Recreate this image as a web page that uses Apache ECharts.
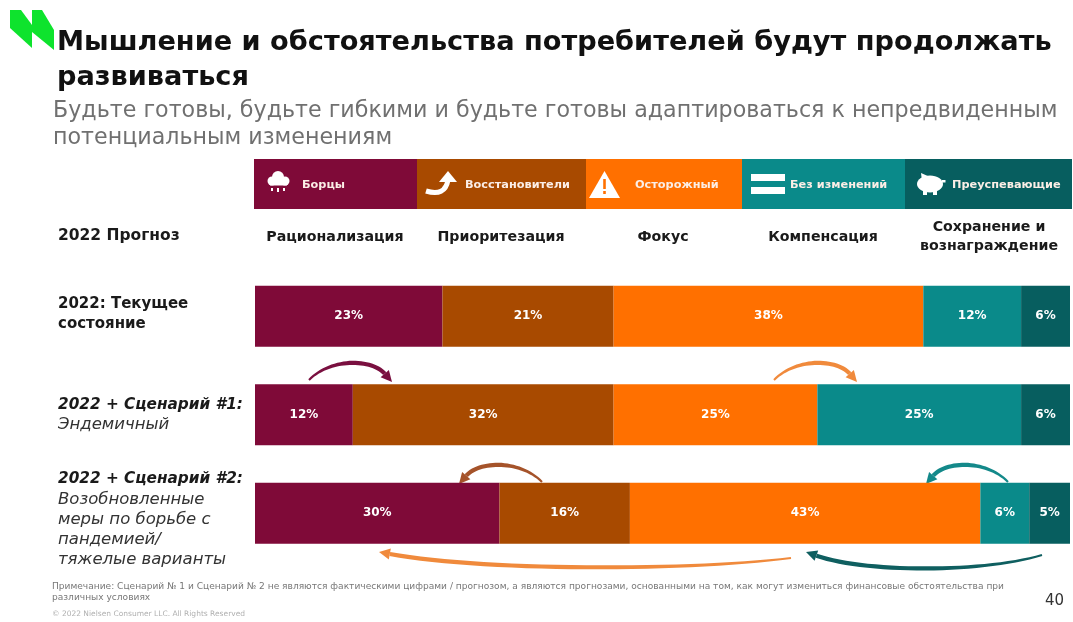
<!DOCTYPE html>
<html lang="ru">
<head>
<meta charset="utf-8">
<title>Мышление и обстоятельства потребителей</title>
<style>
html, body { margin: 0; padding: 0; background: #ffffff; }
#chart { width: 1073px; height: 622px; }
</style>
<script src="https://cdn.jsdelivr.net/npm/echarts@6/dist/echarts.min.js"></script>
</head>
<body>
<div id="chart"></div>
<script>
// Consumer mindset segments and their share per scenario, in percent
const segments = ['Борцы', 'Восстановители', 'Осторожный', 'Без изменений', 'Преуспевающие'];
const outlooks = ['Рационализация', 'Приоритезация', 'Фокус', 'Компенсация', 'Сохранение и\nвознаграждение'];
const rows = ['2022: Текущее состояние', '2022 + Сценарий #1', '2022 + Сценарий #2'];
const strugglers = [23, 12, 30];
const recoverers = [21, 32, 16];
const cautious = [38, 25, 43];
const unchanged = [12, 25, 6];
const thriving = [6, 6, 5];
const palette = ['#7f0a38', '#a84a00', '#ff7000', '#0a8a8a', '#075e5f'];

const FONT = '"DejaVu Sans", "Noto Sans", sans-serif';

// Row captions, drawn as rich axis labels
const rowLabels = {
  '2022: Текущее состояние': '{b|2022: Текущее}\n{b|состояние}',
  '2022 + Сценарий #1': '{bi|2022 + Сценарий #1:}\n{i|Эндемичный}',
  '2022 + Сценарий #2': '{bi|2022 + Сценарий #2:}\n{i|Возобновленные}\n{i|меры по борьбе с}\n{i|пандемией/}\n{i|тяжелые варианты}'
};
const rowLabelPadding = [[0, 0, 4, 0], [0, 0, 0, 0], [12, 0, 0, 0]];

function txt(x, y, text, size, color, weight, align, extra) {
  return {
    type: 'text', silent: true,
    style: Object.assign({
      x, y, text, fill: color, fontFamily: FONT, fontSize: size,
      fontWeight: weight || 'normal', align: align || 'left', verticalAlign: 'middle'
    }, extra || {})
  };
}

// Arched annotation arrow: a tapered cubic shaft and a head aligned with the curve end
function arrow(x1, y1, apexY, x2, y2, color) {
  const dx = x2 - x1;
  const c1x = x1 + 0.25 * dx, c2x = x2 - 0.25 * dx;
  const cy = ((y1 + y2) / 2) + (apexY - (y1 + y2) / 2) / 0.75;
  const a = Math.atan2(y2 - cy, x2 - c2x);
  const L = 11, W = 5.5;
  const bx = x2 - L * Math.cos(a), by = y2 - L * Math.sin(a);
  const nx = -Math.sin(a), ny = Math.cos(a);
  const upper = [], lower = [];
  const steps = 30;
  for (let k = 0; k <= steps; k++) {
    const t = k / steps, u = 1 - t;
    const b0 = u * u * u, b1 = 3 * u * u * t, b2 = 3 * u * t * t, b3 = t * t * t;
    const qx = b0 * x1 + b1 * c1x + b2 * c2x + b3 * bx;
    const qy = b0 * y1 + b1 * cy + b2 * cy + b3 * by;
    const tx = u * u * (c1x - x1) + 2 * u * t * (c2x - c1x) + t * t * (bx - c2x);
    const ty = u * u * (cy - y1) + t * t * (by - cy);
    const d = Math.hypot(tx, ty) || 1;
    const half = 1 + 1.1 * Math.min(t * 2, 1);
    upper.push([qx - ty / d * half, qy + tx / d * half]);
    lower.unshift([qx + ty / d * half, qy - tx / d * half]);
  }
  return [
    { type: 'polygon', silent: true, shape: { points: upper.concat(lower) }, style: { fill: color } },
    {
      type: 'polygon', silent: true,
      shape: { points: [[x2, y2], [bx + nx * W, by + ny * W], [bx - nx * W, by - ny * W]] },
      style: { fill: color }
    }
  ];
}

// Header strip: one coloured cell per segment with an icon and a caption
const stripEdges = [254, 417, 586, 742, 905, 1072];
const stripTextX = [302, 465, 635, 790, 952];
const stripElements = [];
segments.forEach((name, i) => {
  stripElements.push({
    type: 'rect', silent: true,
    shape: { x: stripEdges[i], y: 159, width: stripEdges[i + 1] - stripEdges[i], height: 50 },
    style: { fill: palette[i] }
  });
  stripElements.push(txt(stripTextX[i], 185, name, 11.3, '#fbeee6', 'bold'));
});

const ICON = '#ffffff';
const icons = [
  // rain cloud
  { type: 'circle', shape: { cx: 278, cy: 177, r: 6 }, style: { fill: ICON } },
  { type: 'circle', shape: { cx: 272, cy: 181, r: 4.5 }, style: { fill: ICON } },
  { type: 'circle', shape: { cx: 285, cy: 181, r: 4.5 }, style: { fill: ICON } },
  { type: 'rect', shape: { x: 270, y: 180, width: 17, height: 5.5 }, style: { fill: ICON } },
  { type: 'rect', shape: { x: 271, y: 188, width: 2, height: 3 }, style: { fill: ICON } },
  { type: 'rect', shape: { x: 277, y: 188, width: 2, height: 4 }, style: { fill: ICON } },
  { type: 'rect', shape: { x: 283, y: 188, width: 2, height: 3 }, style: { fill: ICON } },
  // rising swoosh
  { type: 'bezierCurve', shape: { x1: 426, y1: 191, cpx1: 445, cpy1: 197, x2: 448, y2: 180 }, style: { fill: 'none', stroke: ICON, lineWidth: 5 } },
  { type: 'polygon', shape: { points: [[448, 171], [457, 182], [439, 182]] }, style: { fill: ICON } },
  // warning triangle
  { type: 'polygon', shape: { points: [[604.5, 171], [620, 198], [589, 198]] }, style: { fill: ICON } },
  { type: 'rect', shape: { x: 603.2, y: 179, width: 2.6, height: 10 }, style: { fill: palette[2] } },
  { type: 'rect', shape: { x: 603.2, y: 191, width: 2.6, height: 3 }, style: { fill: palette[2] } },
  // equals sign
  { type: 'rect', shape: { x: 751, y: 174, width: 34, height: 7 }, style: { fill: ICON } },
  { type: 'rect', shape: { x: 751, y: 187, width: 34, height: 7 }, style: { fill: ICON } },
  // piggy bank
  { type: 'ellipse', shape: { cx: 930, cy: 184, rx: 13, ry: 8.5 }, style: { fill: ICON } },
  { type: 'polygon', shape: { points: [[921, 173], [930, 177], [922, 181]] }, style: { fill: ICON } },
  { type: 'rect', shape: { x: 923, y: 189, width: 4, height: 6 }, style: { fill: ICON } },
  { type: 'rect', shape: { x: 933, y: 189, width: 4, height: 6 }, style: { fill: ICON } },
  { type: 'rect', shape: { x: 942, y: 180, width: 3.5, height: 2.5 }, style: { fill: ICON } }
].map(el => Object.assign({ silent: true }, el));

// Outlook caption above each column
const outlookCenters = [335, 501, 663, 823, 989];
const outlookElements = outlooks.map((t, i) =>
  txt(outlookCenters[i], 237, t, 14.2, '#1a1a1a', 'bold', 'center', { lineHeight: 19 }));

// Transition arrows between segments
const arrows = [].concat(
  arrow(309, 380, 364, 392, 382, '#7a1040'),
  arrow(774, 380, 364, 857, 382, '#f08a3c'),
  arrow(542, 482, 466, 459, 484, '#a5532a'),
  arrow(1008, 482, 466, 926, 484, '#14898a'),
  arrow(791, 558, 567, 379, 552, '#f08a3c'),
  arrow(1042, 555, 568, 806, 552, '#0f5f60')
);

// Slanted two-strip logo mark
const logo = [
  { type: 'polygon', silent: true, shape: { points: [[10, 10], [21, 10], [32, 25], [32, 48], [10, 28]] }, style: { fill: '#0ee32d' } },
  { type: 'polygon', silent: true, shape: { points: [[32, 10], [42, 10], [54, 30], [54, 50], [32, 32]] }, style: { fill: '#0ee32d' } }
];

const heading = [
  txt(57, 43, 'Мышление и обстоятельства потребителей будут продолжать', 27.2, '#111111', 'bold'),
  txt(57, 78, 'развиваться', 27.2, '#111111', 'bold'),
  txt(53, 111, 'Будьте готовы, будьте гибкими и будьте готовы адаптироваться к непредвиденным', 22.2, '#707070'),
  txt(53, 138, 'потенциальным изменениям', 22.2, '#707070'),
  txt(58, 236, '2022 Прогноз', 15.5, '#1a1a1a', 'bold')
];

const notes = [
  txt(52, 587, 'Примечание: Сценарий № 1 и Сценарий № 2 не являются фактическими цифрами / прогнозом, а являются прогнозами, основанными на том, как могут измениться финансовые обстоятельства при', 9.07, '#777777'),
  txt(52, 598, 'различных условиях', 9.07, '#777777'),
  txt(52, 614, '© 2022 Nielsen Consumer LLC. All Rights Reserved', 7.5, '#b0b0b0'),
  txt(1045, 601, '40', 15, '#333333')
];

const shares = [strugglers, recoverers, cautious, unchanged, thriving];

const chart = echarts.init(document.getElementById('chart'), null, { renderer: 'canvas' });
chart.setOption({
  animation: false,
  backgroundColor: '#ffffff',
  grid: { left: 255, top: 267, width: 815, height: 295.5, containLabel: false, outerBoundsMode: 'none' },
  xAxis: { type: 'value', min: 0, max: 100, show: false },
  yAxis: {
    type: 'category', inverse: true,
    data: rows.map((value, i) => ({ value, textStyle: { align: 'left', padding: rowLabelPadding[i] } })),
    axisLine: { show: false }, axisTick: { show: false },
    axisLabel: {
      align: 'left', margin: 197, fontFamily: FONT,
      formatter: v => rowLabels[v],
      rich: {
        b: { fontFamily: FONT, fontSize: 15, fontWeight: 'bold', lineHeight: 20, color: '#1a1a1a' },
        bi: { fontFamily: FONT, fontSize: 15.3, fontWeight: 'bold', fontStyle: 'italic', lineHeight: 20, color: '#1a1a1a' },
        i: { fontFamily: FONT, fontSize: 16.5, fontStyle: 'italic', lineHeight: 20, color: '#333333' }
      }
    }
  },
  series: segments.map((name, i) => ({
    name, type: 'bar', stack: 'share', barWidth: 61,
    data: shares[i],
    itemStyle: { color: palette[i] },
    label: {
      show: true, position: 'inside', formatter: '{c}%',
      color: '#ffffff', fontFamily: FONT, fontSize: 12, fontWeight: 'bold'
    }
  })),
  graphic: { elements: [].concat(logo, heading, stripElements, icons, outlookElements, arrows, notes) }
});
</script>
</body>
</html>
